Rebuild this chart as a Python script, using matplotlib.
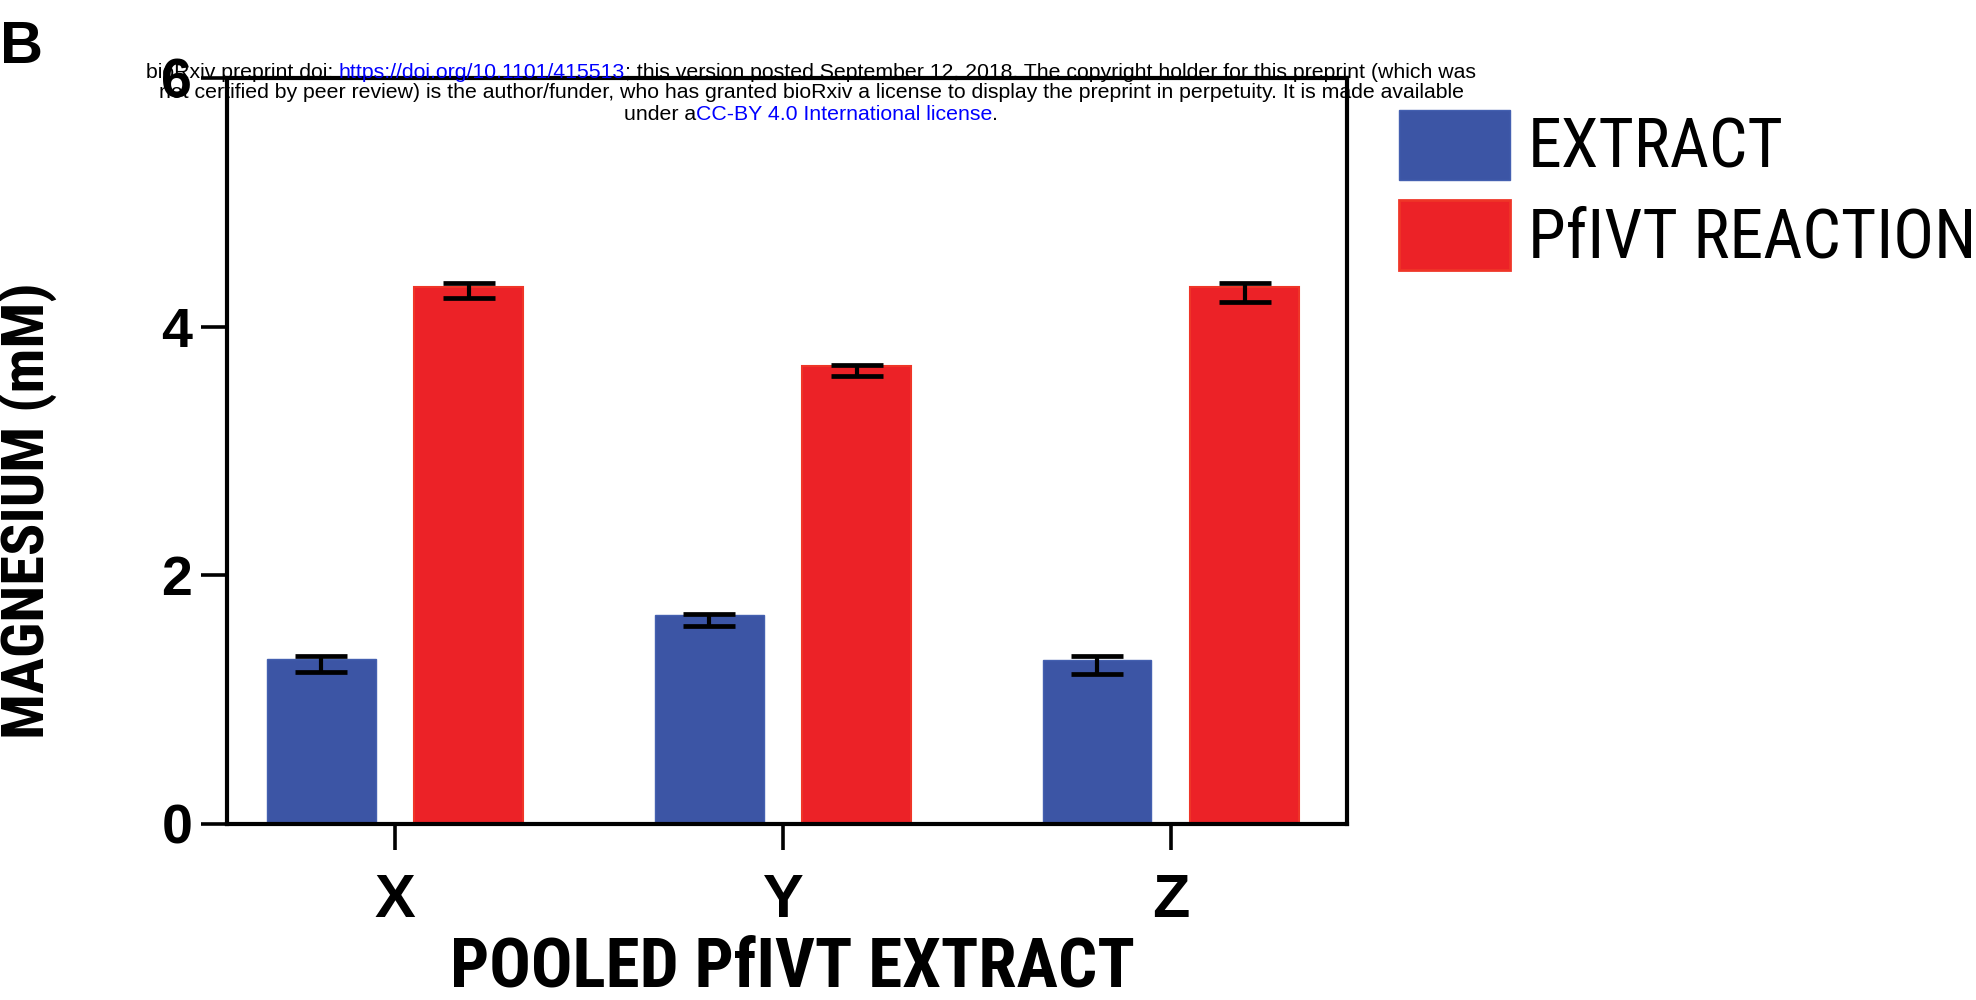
import matplotlib
matplotlib.use("Agg")
import matplotlib.pyplot as plt
import numpy as np
from matplotlib import font_manager
from matplotlib.font_manager import FontProperties
from matplotlib.patches import Patch

# ---------------- data ----------------
categories = ["X", "Y", "Z"]
series_names = ["EXTRACT", "PfIVT REACTION"]
extract_vals = [1.33, 1.68, 1.32]
extract_err_low = [0.11, 0.09, 0.11]
extract_err_high = [0.02, 0.01, 0.03]
reaction_vals = [4.32, 3.68, 4.32]
reaction_err_low = [0.09, 0.08, 0.12]
reaction_err_high = [0.03, 0.01, 0.03]
yticks = [0, 2, 4, 6]
ylabel = "MAGNESIUM (mM)"
xlabel = "POOLED PfIVT EXTRACT"

# ---------------- fonts ----------------
ttf = font_manager.fontManager.ttflist
names = {f.name for f in ttf}
REG = "Liberation Sans" if "Liberation Sans" in names else "DejaVu Sans"


def find_condensed(bold):
    prefs = ["liberationsansnarrow", "arialnarrow", "nimbussansnarrow", "robotocondensed", "opensanscondensed"]
    best = None
    for f in ttf:
        fn = f.fname.lower().replace("-", "").replace("_", "").replace(" ", "")
        if not ("narrow" in fn or "condensed" in fn):
            continue
        if "italic" in fn or "oblique" in fn:
            continue
        w = f.weight if isinstance(f.weight, int) else (700 if "bold" in str(f.weight) else 400)
        if bold and not (650 <= w <= 750):
            continue
        if (not bold) and w != 400:
            continue
        for rank, p in enumerate(prefs):
            if p in fn:
                if best is None or rank < best[0]:
                    best = (rank, f.fname)
    if best is None:
        return FontProperties(family=REG, weight="bold" if bold else "normal")
    return FontProperties(fname=best[1])


FP_BOLD_C = find_condensed(True)
FP_REG_C = find_condensed(False)

BLUE = "#3C55A5"
RED = "#EC2227"

W, H, DPI = 1976, 1000, 100
fig = plt.figure(figsize=(W / DPI, H / DPI), dpi=DPI)
renderer = fig.canvas.get_renderer()


def fit_size(text, fp, target_px, rotation=0):
    fp = fp.copy()
    fp.set_size(40)
    t = fig.text(0, 0, text, fontproperties=fp, rotation=rotation)
    bb = t.get_window_extent(renderer)
    length = bb.height if rotation == 90 else bb.width
    t.remove()
    return 40 * target_px / length


ax = fig.add_axes([227 / W, 1 - 824 / H, (1347 - 227) / W, (824 - 78) / H])

x = np.arange(len(categories))
bw = 0.28
off = 0.19
ax.bar(x - off, extract_vals, bw, color=BLUE, edgecolor="#4460B0", linewidth=1, zorder=2)
ax.bar(x + off, reaction_vals, bw, color=RED, edgecolor="#EF3528", linewidth=1.5, zorder=2)
ax.errorbar(x - off, extract_vals, yerr=[extract_err_low, extract_err_high], fmt="none",
            ecolor="black", elinewidth=3.0, capsize=19, capthick=3.4, zorder=3)
ax.errorbar(x + off, reaction_vals, yerr=[reaction_err_low, reaction_err_high], fmt="none",
            ecolor="black", elinewidth=3.0, capsize=19, capthick=3.4, zorder=3)

ax.set_xlim(-0.433, 2.454)
ax.set_ylim(0, 6)
ax.set_yticks(yticks)
ax.set_xticks(x)
ax.set_xticklabels(categories)
for s in ax.spines.values():
    s.set_linewidth(3.0)
    s.set_color("black")
ax.tick_params(axis="both", length=19, width=2.6, color="black")
ax.tick_params(axis="y", pad=6)
ax.tick_params(axis="x", pad=16)
for lab in ax.get_yticklabels():
    lab.set_fontfamily(REG); lab.set_fontweight("bold"); lab.set_fontsize(40)
for lab in ax.get_xticklabels():
    lab.set_fontfamily(REG); lab.set_fontweight("bold"); lab.set_fontsize(44)

# axis titles (condensed bold, fitted to the reference extent)
fp_y = FP_BOLD_C.copy(); fp_y.set_size(fit_size(ylabel, FP_BOLD_C, 456, rotation=90))
fig.text(28 / W, 1 - 511 / H, ylabel, rotation=90, ha="center", va="center", fontproperties=fp_y)
fp_x = FP_BOLD_C.copy(); fp_x.set_size(fit_size(xlabel, FP_BOLD_C, 683))
fig.text(792 / W, 1 - 968 / H, xlabel, ha="center", va="center", fontproperties=fp_x)

# legend
fp_leg = FP_REG_C.copy(); fp_leg.set_size(min(49, fit_size("EXTRACT", FP_REG_C, 261)))
fs_leg_px = fp_leg.get_size_in_points() * DPI / 72
patch_h = 70
hh = (patch_h / fs_leg_px - 0.245) / 0.65
handles = [Patch(facecolor=BLUE, edgecolor="#4460B0"), Patch(facecolor=RED, edgecolor="#EF3528", linewidth=2)]
leg = fig.legend(handles, series_names, loc="upper left", bbox_to_anchor=(1399 / W, 1 - 110 / H),
                 frameon=False, borderpad=0, borderaxespad=0, handlelength=111 / fs_leg_px,
                 handleheight=hh, handletextpad=18 / fs_leg_px,
                 labelspacing=18 / fs_leg_px, prop=fp_leg)

# panel letter
fig.text(0 / W, 1 - 63 / H, "B", ha="left", va="baseline", fontfamily=REG, fontweight="bold", fontsize=43)

# header
LINK = "#0000FF"
header_lines = [
    [("bioRxiv preprint doi: ", "black"), ("https://doi.org/10.1101/415513", LINK),
     ("; this version posted September 12, 2018. The copyright holder for this preprint (which was", "black")],
    [("not certified by peer review) is the author/funder, who has granted bioRxiv a license to display the preprint in perpetuity. It is made available", "black")],
    [("under a", "black"), ("CC-BY 4.0 International license", LINK), (".", "black")],
]
header_y = [72, 93, 115]
hfs = fit_size("".join(s for s, _ in header_lines[0]), FontProperties(family=REG), 1336)
cx = 811
for parts, yy in zip(header_lines, header_y):
    texts = []
    for s, c in parts:
        t = fig.text(0, 1 - yy / H, s, color=c, fontfamily=REG, fontsize=hfs, ha="left", va="center")
        texts.append(t)
    widths = [t.get_window_extent(renderer).width for t in texts]
    xs = cx - sum(widths) / 2
    for t, w in zip(texts, widths):
        t.set_x(xs / W)
        xs += w

fig.savefig("out.png", dpi=DPI)
